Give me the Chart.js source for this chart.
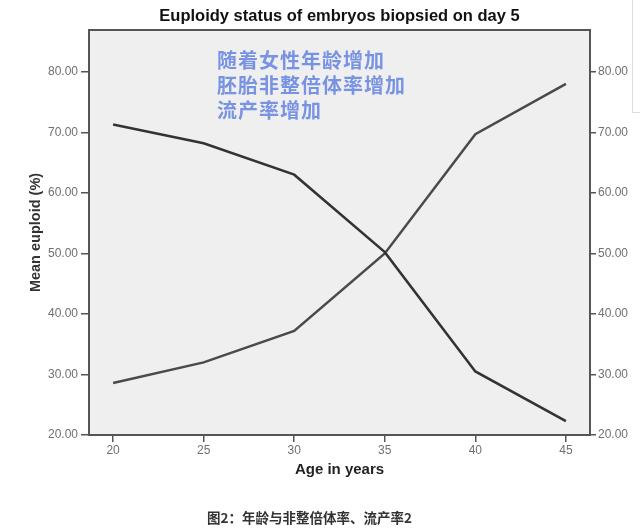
<!DOCTYPE html>
<html>
<head>
<meta charset="utf-8">
<script src="https://cdn.jsdelivr.net/npm/chart.js@4.4.1/dist/chart.umd.min.js"></script>
<style>
  html, body { margin: 0; padding: 0; background: #ffffff; }
  #wrap { position: relative; width: 640px; height: 532px; overflow: hidden; }
  #note { position: absolute; left: 217px; top: 47px; font-family: "Noto Sans CJK SC", sans-serif; font-weight: bold; font-size: 20px; line-height: 25px; letter-spacing: 1px; color: #7893e3; white-space: nowrap; }
  #caption { position: absolute; left: 207px; top: 509px; font-family: "Noto Sans CJK SC", sans-serif; font-weight: 600; font-size: 13.5px; line-height: 17px; color: #333333; white-space: nowrap; }
  #edgeV { position: absolute; left: 632px; top: 0; width: 1px; height: 112px; background: #dddddd; }
  #edgeH { position: absolute; left: 632px; top: 112px; width: 8px; height: 1px; background: #dddddd; }
</style>
</head>
<body>
<div id="wrap">
  <canvas id="c"></canvas>
  <div id="note">随着女性年龄增加<br>胚胎非整倍体率增加<br>流产率增加</div>
  <div id="caption">图2：年龄与非整倍体率、流产率2</div>
  <div id="edgeV"></div><div id="edgeH"></div>
</div>
<script>
// ---- data ----
const ages = [20, 25, 30, 35, 40, 45];
const euploidMean = [71.3, 68.2, 63.0, 50.2, 30.5, 22.3];
const aneuploidMean = [28.6, 32.0, 37.2, 50.0, 69.7, 78.0];
const yTickValues = [20, 30, 40, 50, 60, 70, 80];
const chartTitle = 'Euploidy status of embryos biopsied on day 5';
const xTitle = 'Age in years';
const yTitle = 'Mean euploid (%)';

const Y_MIN = 20, Y_MAX = 86.9, X_MIN = 18.67, X_MAX = 46.33;

const plotFrame = {
  id: 'plotFrame',
  beforeDatasetsDraw(chart) {
    const { ctx, chartArea: a } = chart;
    ctx.save();
    ctx.fillStyle = '#efefef';
    ctx.fillRect(a.left, a.top, a.right - a.left, a.bottom - a.top);
    ctx.restore();
  },
  afterDatasetsDraw(chart) {
    const { ctx, chartArea: a } = chart;
    ctx.save();
    ctx.strokeStyle = '#555555';
    ctx.lineWidth = 2;
    ctx.strokeRect(a.left, a.top, a.right - a.left, a.bottom - a.top);
    ctx.restore();
  }
};

const tickFont = { family: '"Liberation Sans", Arial, sans-serif', size: 12 };
const boldFont = (s) => ({ family: '"Liberation Sans", Arial, sans-serif', size: s, weight: 'bold' });

function yAxis(position, width, tickLen, pad, withTitle) {
  return {
    type: 'linear',
    position: position,
    min: Y_MIN,
    max: Y_MAX,
    afterBuildTicks: (s) => { s.ticks = yTickValues.map(v => ({ value: v })); },
    afterFit: (s) => { s.width = width; },
    grid: { display: true, drawOnChartArea: false, drawTicks: true, tickLength: tickLen, color: '#555555', lineWidth: 1.5 },
    border: { display: false },
    ticks: { padding: pad, color: '#707070', font: tickFont, callback: (v) => Number(v).toFixed(2) },
    title: withTitle ? { display: true, text: yTitle, color: '#333333', font: boldFont(14.5), padding: { top: 27, bottom: 0 } } : { display: false }
  };
}

new Chart(document.getElementById('c'), {
  type: 'line',
  data: {
    datasets: [
      {
        label: 'Euploid',
        data: ages.map((a, i) => ({ x: a, y: euploidMean[i] })),
        borderColor: '#333333',
        borderWidth: 2.5,
        pointRadius: 0,
        tension: 0,
        yAxisID: 'y'
      },
      {
        label: 'Aneuploid',
        data: ages.map((a, i) => ({ x: a, y: aneuploidMean[i] })),
        borderColor: '#4a4a4a',
        borderWidth: 2.5,
        pointRadius: 0,
        tension: 0,
        yAxisID: 'y'
      }
    ]
  },
  options: {
    responsive: true,
    maintainAspectRatio: false,
    animation: false,
    layout: { padding: { left: 0, right: 0, top: 0, bottom: 50 } },
    plugins: {
      legend: { display: false },
      tooltip: { enabled: false },
      title: {
        display: true,
        text: chartTitle,
        fullSize: false,
        color: '#111111',
        font: boldFont(16.5),
        padding: { top: 7, bottom: 3.2 }
      }
    },
    scales: {
      x: {
        type: 'linear',
        position: 'bottom',
        min: X_MIN,
        max: X_MAX,
        afterBuildTicks: (s) => { s.ticks = ages.map(v => ({ value: v })); },
        afterFit: (s) => { s.height = 47; },
        grid: { display: true, drawOnChartArea: false, drawTicks: true, tickLength: 7, color: '#555555', lineWidth: 1.5 },
        border: { display: false },
        ticks: { padding: 1, color: '#707070', font: tickFont, maxRotation: 0 },
        title: { display: true, text: xTitle, color: '#222222', font: boldFont(15), padding: { top: 0, bottom: 3 } }
      },
      y: yAxis('left', 89, 8, 3, true),
      y2: yAxis('right', 50, 6, 2, false)
    }
  },
  plugins: [plotFrame]
});
</script>
</body>
</html>
